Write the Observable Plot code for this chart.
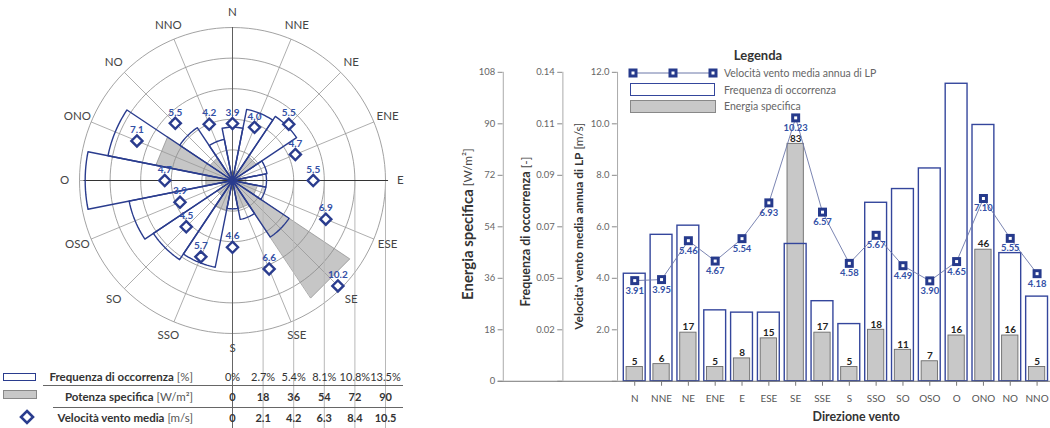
<!DOCTYPE html>
<html><head><meta charset="utf-8">
<script src="https://cdn.jsdelivr.net/npm/d3@7"></script>
<script src="https://cdn.jsdelivr.net/npm/@observablehq/plot@0.6"></script>
<style>
html,body{margin:0;padding:0;background:#fff;}
#wrap{position:relative;width:1050px;height:428px;overflow:hidden;font-family:Lato,"Noto Sans",sans-serif;}
#left{position:absolute;left:0;top:0;}
#right{position:absolute;left:440px;top:0;}
.ov{position:absolute;white-space:nowrap;line-height:12px;}
.tl{font-size:11.5px;color:#555;text-align:right;width:193px;left:0;}
.tl b{color:#333;}
.lg{font-size:10.5px;color:#666;left:724px;}
</style></head><body>
<div id="wrap">
  <div id="left"></div>
  <div id="right"></div>
  <!-- left table legend -->
  <div class="ov" style="left:3px;top:373px;width:31px;height:6px;border:1.6px solid #2a3c8e;"></div>
  <div class="ov tl" style="top:371px;"><b>Frequenza di occorrenza</b> [%]</div>
  <div class="ov" style="left:3px;top:390px;width:32px;height:7px;background:#c8c8c8;border:1px solid #888;"></div>
  <div class="ov tl" style="top:391px;"><b>Potenza specifica</b> [W/m²]</div>
  <svg class="ov" style="left:19px;top:409px;" width="16" height="16"><path d="M8,2 L14,8 L8,14 L2,8 Z" fill="#fff" stroke="#2a3c8e" stroke-width="2.6"/></svg>
  <div class="ov tl" style="top:412px;"><b>Velocità vento media</b> [m/s]</div>
  <div class="ov" style="left:43px;top:385px;width:360px;height:1px;background:#666;"></div>
  <div class="ov" style="left:53px;top:407px;width:350px;height:1px;background:#666;"></div>
  <!-- right legend -->
  <div class="ov" style="left:718px;top:49px;width:80px;text-align:center;font-size:13px;font-weight:bold;color:#333;">Legenda</div>
  <svg class="ov" style="left:626px;top:66px;" width="94" height="14">
    <line x1="7" y1="7" x2="87" y2="7" stroke="#6b76a8" stroke-width="1"/>
    <rect x="2.5" y="2.5" width="9" height="9" fill="#263a8c"/><rect x="5.5" y="5.5" width="3" height="3" fill="#fff"/>
    <rect x="42.5" y="2.5" width="9" height="9" fill="#263a8c"/><rect x="45.5" y="5.5" width="3" height="3" fill="#fff"/>
    <rect x="82.5" y="2.5" width="9" height="9" fill="#263a8c"/><rect x="85.5" y="5.5" width="3" height="3" fill="#fff"/>
  </svg>
  <div class="ov lg" style="top:67px;">Velocità vento media annua di LP</div>
  <div class="ov" style="left:630px;top:83px;width:83px;height:11px;border:1.2px solid #34469c;background:#fff;"></div>
  <div class="ov lg" style="top:84px;">Frequenza di occorrenza</div>
  <div class="ov" style="left:630px;top:100px;width:84px;height:11px;border:1px solid #888;background:#c8c8c8;"></div>
  <div class="ov lg" style="top:100px;">Energia specifica</div>
</div>
<script>
// ---------------- data ----------------
const directions = ["N","NNE","NE","ENE","E","ESE","SE","SSE","S","SSO","SO","OSO","O","ONO","NO","NNO"];
const frequency = [0.047,0.064,0.068,0.031,0.030,0.030,0.060,0.035,0.025,0.078,0.084,0.093,0.130,0.112,0.056,0.037];
const energy = [5,6,17,5,8,15,83,17,5,18,11,7,16,46,16,5];
const speed = [3.91,3.95,5.46,4.67,5.54,6.93,10.23,6.57,4.58,5.67,4.49,3.90,4.65,7.10,5.55,4.18];
const speedRose = ["3.9","4.0","5.5","4.7","5.5","6.9","10.2","6.6","4.6","5.7","4.5","3.9","4.7","7.1","5.5","4.2"];
// rose scale (rings in % of frequency)
const ringTicks = [0, 2.7, 5.4, 8.1, 10.8, 13.5];
const ringFreqLabels = ["0%","2.7%","5.4%","8.1%","10.8%","13.5%"];
const ringPowerLabels = ["0","18","36","54","72","90"];
const ringSpeedLabels = ["0","2.1","4.2","6.3","8.4","10.5"];
const rosePowerMax = 90, roseSpeedMax = 10.5;
// bar chart axes
const velTicks = [0, 2, 4, 6, 8, 10, 12];
const velTickLabels = ["", "2.0", "4.0", "6.0", "8.0", "10.0", "12.0"];
const freqTickLabels = ["", "0.02", "0.05", "0.07", "0.09", "0.11", "0.14"];
const energyTickLabels = ["0", "18", "36", "54", "72", "90", "108"];
const energyMax = 108, freqMax = 0.135, velMax = 12;

const navy = "#2a3c8e", blueLabel = "#3350a6";
const FONT = "Lato, 'Noto Sans', sans-serif";

// ---------------- wind rose ----------------
const ringMax = ringTicks[ringTicks.length - 1];
const K = 153 / ringMax;
const CX = 232, CY = 180, LW = 440, H = 428;
const xDom = [-CX / K, (LW - CX) / K];
const yDom = [-(H - CY) / K, CY / K];
const rad = d => d * Math.PI / 180;
const polar = (r, deg) => ({x: r * Math.sin(rad(deg)), y: r * Math.cos(rad(deg))});
const HALF = 11.25, STEP = 22.5;

const freqWedges = directions.flatMap((d, i) => {
  const a = i * STEP, r = frequency[i] * 100;
  const pts = [{dir: d, ...polar(0, a)}];
  for (let k = 0; k <= 12; k++) pts.push({dir: d, ...polar(r, a - HALF + k * (2 * HALF / 12))});
  return pts;
});
const energyWedges = directions.flatMap((d, i) => {
  const a = i * STEP, r = energy[i] / rosePowerMax * ringMax;
  return [{dir: d, ...polar(0, a)}, {dir: d, ...polar(r, a - HALF)}, {dir: d, ...polar(r, a + HALF)}];
});
const ringPts = ringTicks.slice(1).flatMap(r => d3.range(0, 361, 3).map(t => ({ring: r, ...polar(r, t)})));
const spokes = directions.map((d, i) => ({dir: d, ...polar(ringMax, i * STEP)}));
const speedPts = directions.map((d, i) => ({dir: d, label: speedRose[i], ...polar(speed[i] / roseSpeedMax * ringMax, i * STEP)}));
const labelPts = directions.map((d, i) => ({dir: d, ...polar(ringMax * 1.097, i * STEP)}));

const tableText = {frameAnchor: "bottom", lineAnchor: "middle", fontSize: 11};
const left = Plot.plot({
  width: LW, height: H, margin: 0,
  x: {domain: xDom, axis: null},
  y: {domain: yDom, axis: null},
  style: {fontFamily: FONT, background: "transparent"},
  marks: [
    Plot.line(energyWedges, {x: "x", y: "y", z: "dir", fill: "#c6c6c6", stroke: "#8a8a8a", strokeWidth: 0.7, curve: "linear-closed"}),
    Plot.line(ringPts, {x: "x", y: "y", z: "ring", stroke: "#8a8a8a", strokeWidth: 0.8}),
    Plot.link(spokes, {x1: 0, y1: 0, x2: "x", y2: "y", stroke: "#999", strokeWidth: 0.8}),
    Plot.ruleX(ringTicks.slice(1), {y1: 0, y2: yDom[0], stroke: "#b8b8b8", strokeWidth: 1}),
    Plot.ruleX([0], {y1: ringMax, y2: yDom[0], stroke: "#555", strokeWidth: 0.9}),
    Plot.ruleY([0], {x1: -ringMax * 0.97, x2: ringMax * 1.02, stroke: "#333", strokeWidth: 1}),
    Plot.line(freqWedges, {x: "x", y: "y", z: "dir", stroke: navy, strokeWidth: 1.4, curve: "linear-closed"}),
    Plot.dot(speedPts, {x: "x", y: "y", symbol: "diamond2", r: 5, stroke: navy, strokeWidth: 2.4, fill: "white"}),
    Plot.text(speedPts, {x: "x", y: "y", text: "label", dy: -11, fill: blueLabel, fontWeight: "bold", fontSize: 10}),
    Plot.text(labelPts, {x: "x", y: "y", text: "dir", fill: "#444", fontSize: 11.5}),
    Plot.text(ringTicks, {...tableText, x: d => d, text: (d, i) => ringFreqLabels[i], dy: -51, fill: "#333"}),
    Plot.text(ringTicks, {...tableText, x: d => d, text: (d, i) => ringPowerLabels[i], dy: -31, fill: "#333", fontWeight: "bold"}),
    Plot.text(ringTicks, {...tableText, x: d => d, text: (d, i) => ringSpeedLabels[i], dy: -10, fill: "#333", fontWeight: "bold"})
  ]
});
document.getElementById("left").appendChild(left);

// ---------------- bar chart ----------------
const rows = directions.map((d, i) => ({dir: d, freq: frequency[i], energy: energy[i], speed: speed[i]}));
const RW = 614, ML = 181.8, MT = 72.3, MB = H - 383.3;
const step = (RW - ML) / directions.length;
const offVel = -3.8, offFreq = -58.8, offEnergy = -118.8;
const eY = d => d.energy / energyMax * velMax;
const fY = d => d.freq / freqMax * velMax;
const axisStyle = {tickSize: 5, tickPadding: 3, fontSize: 9.5, fill: "#666", stroke: "#888", label: null};
const titleStyle = {text: d => d, frameAnchor: "left", lineAnchor: "middle", rotate: -90};

const right = Plot.plot({
  width: RW, height: H, marginLeft: ML, marginRight: 0, marginTop: MT, marginBottom: MB,
  x: {domain: directions, padding: 0, axis: null},
  y: {domain: [0, velMax], axis: null},
  style: {fontFamily: FONT, background: "transparent"},
  marks: [
    Plot.barY(rows, {x: "dir", y: eY, fill: "#c8c8c8", stroke: "#6a6a6a", strokeWidth: 0.9, insetLeft: 5.3, insetRight: 5.3}),
    Plot.barY(rows, {x: "dir", y: fY, fill: "none", stroke: "#34469c", strokeWidth: 1.4, insetLeft: 2.5, insetRight: 2.5}),
    Plot.ruleY([0], {stroke: "#777", strokeWidth: 1, insetLeft: -(ML - 58)}),
    // axis lines
    Plot.ruleX([directions[0]], {x: d => d, y1: 0, y2: velMax, dx: offVel - step / 2, stroke: "#aaa"}),
    Plot.ruleX([directions[0]], {x: d => d, y1: 0, y2: velMax, dx: offFreq - step / 2, stroke: "#aaa"}),
    Plot.ruleX([directions[0]], {x: d => d, y1: 0, y2: velMax, dx: offEnergy - step / 2, stroke: "#aaa"}),
    Plot.axisY({...axisStyle, ticks: velTicks, tickFormat: (d, i) => velTickLabels[i], dx: offVel}),
    Plot.axisY({...axisStyle, ticks: velTicks, tickFormat: (d, i) => freqTickLabels[i], dx: offFreq}),
    Plot.axisY({...axisStyle, ticks: velTicks, tickFormat: (d, i) => energyTickLabels[i], dx: offEnergy}),
    Plot.axisX({tickSize: 5, tickPadding: 9, fontSize: 10, fill: "#555", stroke: "#777", label: null}),
    // axis titles
    Plot.text(["Energia specifica"], {...titleStyle, textAnchor: "end", dx: -153.8, dy: -37.8, fontWeight: "bold", fontSize: 15, fill: "#333"}),
    Plot.text([" [W/m²]"], {...titleStyle, textAnchor: "start", dx: -153.8, dy: -37.8, fontSize: 12, fill: "#444"}),
    Plot.text(["Frequenza di occorrenza"], {...titleStyle, textAnchor: "end", dx: -95.8, dy: -55.8, fontWeight: "bold", fontSize: 12.6, fill: "#333"}),
    Plot.text([" [-]"], {...titleStyle, textAnchor: "start", dx: -95.8, dy: -55.8, fontSize: 12, fill: "#444"}),
    Plot.text(["Velocita' vento media annua di LP"], {...titleStyle, textAnchor: "end", dx: -41.8, dy: -74.8, fontWeight: "bold", fontSize: 12, fill: "#333"}),
    Plot.text([" [m/s]"], {...titleStyle, textAnchor: "start", dx: -41.8, dy: -74.8, fontSize: 12, fill: "#444"}),
    Plot.text(["Direzione vento"], {text: d => d, frameAnchor: "bottom", lineAnchor: "middle", dx: 20.6, dy: 35.7, fontWeight: "bold", fontSize: 12.5, fill: "#333"}),
    // energy labels
    Plot.text(rows, {x: "dir", y: eY, text: "energy", dy: -5.5, fontWeight: "bold", fontSize: 10, fill: "#222"}),
    // speed line and markers
    Plot.line(rows, {x: "dir", y: "speed", stroke: "#6b76a8", strokeWidth: 0.9}),
    Plot.dot(rows, {x: "dir", y: "speed", symbol: "square", r: 5.1, fill: "#263a8c"}),
    Plot.dot(rows, {x: "dir", y: "speed", symbol: "square", r: 1.7, fill: "#fff"}),
    Plot.text(rows, {x: "dir", y: "speed", text: d => d.speed.toFixed(2), dy: 10, fontWeight: "bold", fontSize: 9.5, fill: blueLabel})
  ]
});
document.getElementById("right").appendChild(right);
</script>
</body></html>
